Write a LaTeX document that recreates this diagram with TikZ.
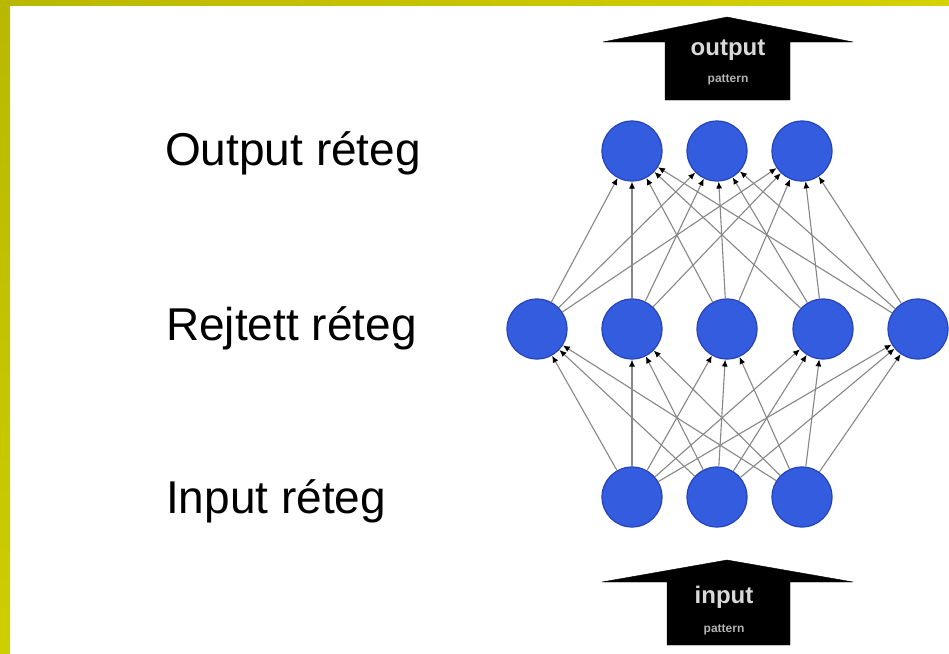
\documentclass[tikz,border=0pt]{standalone}
\usepackage{fontspec}
\setmainfont{Liberation Sans}
\usetikzlibrary{arrows.meta}
\definecolor{barA}{RGB}{184,184,0}
\definecolor{barB}{RGB}{206,206,0}
\definecolor{barC}{RGB}{214,210,0}
\definecolor{neuron}{RGB}{52,92,222}
\definecolor{neuronedge}{RGB}{38,68,185}
\definecolor{linkgray}{RGB}{135,135,135}
\tikzset{
  neuronnode/.style={circle, minimum size=60pt, inner sep=0pt, fill=neuron, draw=neuronedge, line width=1.2pt},
  link/.style={draw=linkgray, line width=1.1pt, -{Latex[length=7pt,width=6pt,color=black]}},
  layerlabel/.style={anchor=base west, inner sep=0pt, font=\fontsize{46}{52}\selectfont},
  bigarrow/.style={fill=black, draw=black, line join=round},
  arrowtext/.style={text=white!85!black, font=\bfseries\fontsize{24}{26}\selectfont, inner sep=0pt},
  smalltext/.style={text=white!70!black, font=\bfseries\fontsize{12}{14}\selectfont, inner sep=0pt}
}
\begin{document}
\begin{tikzpicture}[x=1pt,y=-1pt]
\useasboundingbox (0,0) rectangle (949,653);
\fill[white] (0,0) rectangle (949,653);
% frame bars
\shade[top color=barA, bottom color=barB] (0,0) rectangle (10,653);
\shade[left color=barA, right color=barC] (0,0) rectangle (949,5);

% layer labels
\node[layerlabel] (lout) at (165,165) {Output réteg};
\node[layerlabel] (lhid) at (166,340) {Rejtett réteg};
\node[layerlabel] (lin)  at (166,513) {Input réteg};

% neurons
\node[neuronnode] (o1) at (632,151) {};
\node[neuronnode] (o2) at (717,151) {};
\node[neuronnode] (o3) at (802,151) {};
\node[neuronnode] (h1) at (537,329) {};
\node[neuronnode] (h2) at (632,329) {};
\node[neuronnode] (h3) at (727,329) {};
\node[neuronnode] (h4) at (823,329) {};
\node[neuronnode] (h5) at (918,329) {};
\node[neuronnode] (i1) at (632,497) {};
\node[neuronnode] (i2) at (717,497) {};
\node[neuronnode] (i3) at (802,497) {};

% connections
\foreach \a in {i1,i2,i3}{
  \foreach \b in {h1,h2,h3,h4,h5}{
    \draw[link] (\a) -- (\b);
  }
}
\foreach \a in {h1,h2,h3,h4,h5}{
  \foreach \b in {o1,o2,o3}{
    \draw[link] (\a) -- (\b);
  }
}

% output arrow
\draw[bigarrow] (603,42) -- (727,17) -- (853,42) -- (790,42) -- (790,100) -- (665,100) -- (665,42) -- cycle;
\node[arrowtext] (outtxt) at (728,50) {output};
\node[smalltext] (outpat) at (728,80) {pattern};

% input arrow
\draw[bigarrow] (602,582) -- (727,560) -- (853,582) -- (790,582) -- (790,645) -- (667,645) -- (667,582) -- cycle;
\node[arrowtext] (intxt) at (724,597) {input};
\node[smalltext] (inpat) at (724,630) {pattern};
\end{tikzpicture}
\end{document}
